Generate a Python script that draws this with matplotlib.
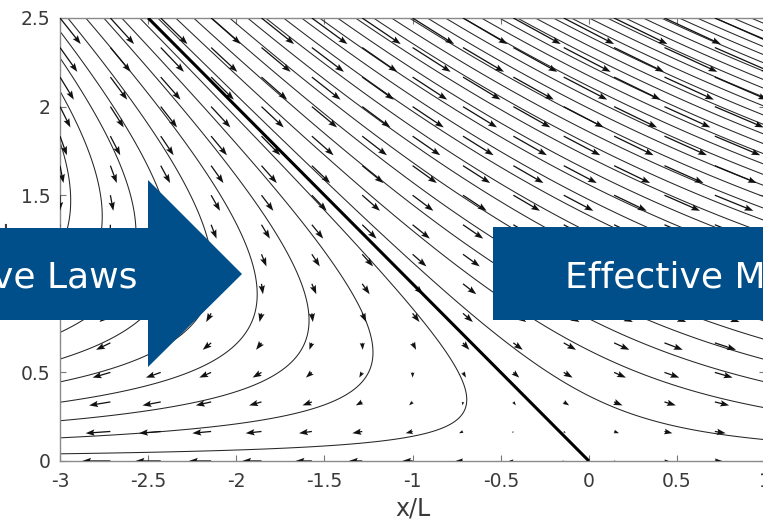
import numpy as np
import matplotlib.pyplot as plt
from matplotlib.patches import Polygon

plt.rcParams['font.family'] = ['DejaVu Sans']
plt.rcParams['axes.unicode_minus'] = False

# Linear saddle flow  d/dt [x, y] = A [x, y]
A = [[1.0, 2.0],
     [0.0, -1.0]]

# Grid of the velocity arrows
x_arrows = np.linspace(-3.0, 1.0, 15)
y_arrows = np.linspace(0.0, 2.5, 16)

# Stream-function values of the drawn streamlines
psi_levels = np.arange(-2.16, 8.9, 0.255)

# Stable manifold (separatrix) through the stagnation point
sep_x = [-2.5, 0.0]
sep_y = [2.5, 0.0]

x_ticks = [-3, -2.5, -2, -1.5, -1, -0.5, 0, 0.5, 1]
y_ticks = [0, 0.5, 1, 1.5, 2, 2.5]
x_tick_labels = ['-3', '-2.5', '-2', '-1.5', '-1', '-0.5', '0', '0.5', '1']
y_tick_labels = ['0', '0.5', '1', '1.5', '2', '2.5']

W, H = 763, 527
fig = plt.figure(figsize=(W / 100, H / 100), dpi=100)
ax = fig.add_axes([60 / W, (H - 461) / H, 705.2 / W, 443 / H])

(a, b), (c, d) = A

# streamlines as level sets of psi = a*x*y + b*y^2/2
xs = np.linspace(-3.0, 1.05, 500)
ys = np.linspace(0.0, 2.5, 400)
XX, YY = np.meshgrid(xs, ys)
PSI = a * XX * YY + 0.5 * b * YY ** 2
ax.contour(XX, YY, PSI, levels=psi_levels, colors='#262626',
           linewidths=0.75, linestyles='solid')

# velocity arrows
XA, YA = np.meshgrid(x_arrows, y_arrows)
U = a * XA + b * YA
V = c * XA + d * YA
ax.quiver(XA, YA, U, V, angles='xy', scale_units='xy', scale=17.0,
          pivot='tail', color='#111111', width=0.0018,
          headwidth=5, headlength=7, headaxislength=6, zorder=3)

ax.plot(sep_x, sep_y, color='black', linewidth=2.2, zorder=4,
        solid_capstyle='butt')

ax.set_xlim(-3, 1)
ax.set_ylim(0, 2.5)
ax.set_xticks(x_ticks)
ax.set_xticklabels(x_tick_labels)
ax.set_yticks(y_ticks)
ax.set_yticklabels(y_tick_labels)
ax.tick_params(direction='in', length=4, width=0.8, color='#777777',
               labelcolor='#3a3a3a', labelsize=13.5, top=True, right=True)
ax.tick_params(axis='x', pad=8)
ax.tick_params(axis='y', pad=7)
for s in ax.spines.values():
    s.set_color('#8a8a8a')
    s.set_linewidth(1.0)
ax.set_xlabel('x/L', fontsize=17, color='#3a3a3a', labelpad=4)
ax.set_ylabel('y/L', fontsize=17, color='#3a3a3a', labelpad=6)

# overlay banners
blue = '#004E8A'

def px(x, y):
    return (x / W, (H - y) / H)

left_arrow = [px(-10, 228), px(148, 228), px(148, 180), px(242, 274),
              px(148, 367), px(148, 320), px(-10, 320)]
fig.add_artist(Polygon(left_arrow, closed=True, facecolor=blue,
                       edgecolor='none', transform=fig.transFigure, zorder=10))
right_box = [px(493, 227), px(775, 227), px(775, 320), px(493, 320)]
fig.add_artist(Polygon(right_box, closed=True, facecolor=blue,
                       edgecolor='none', transform=fig.transFigure, zorder=10))

fig.text(138 / W, (H - 288) / H, 've Laws', color='white', fontsize=26,
         ha='right', va='baseline', zorder=11)
fig.text(565 / W, (H - 288) / H, 'Effective M', color='white', fontsize=26,
         ha='left', va='baseline', zorder=11)

fig.savefig('out.png', dpi=100)
